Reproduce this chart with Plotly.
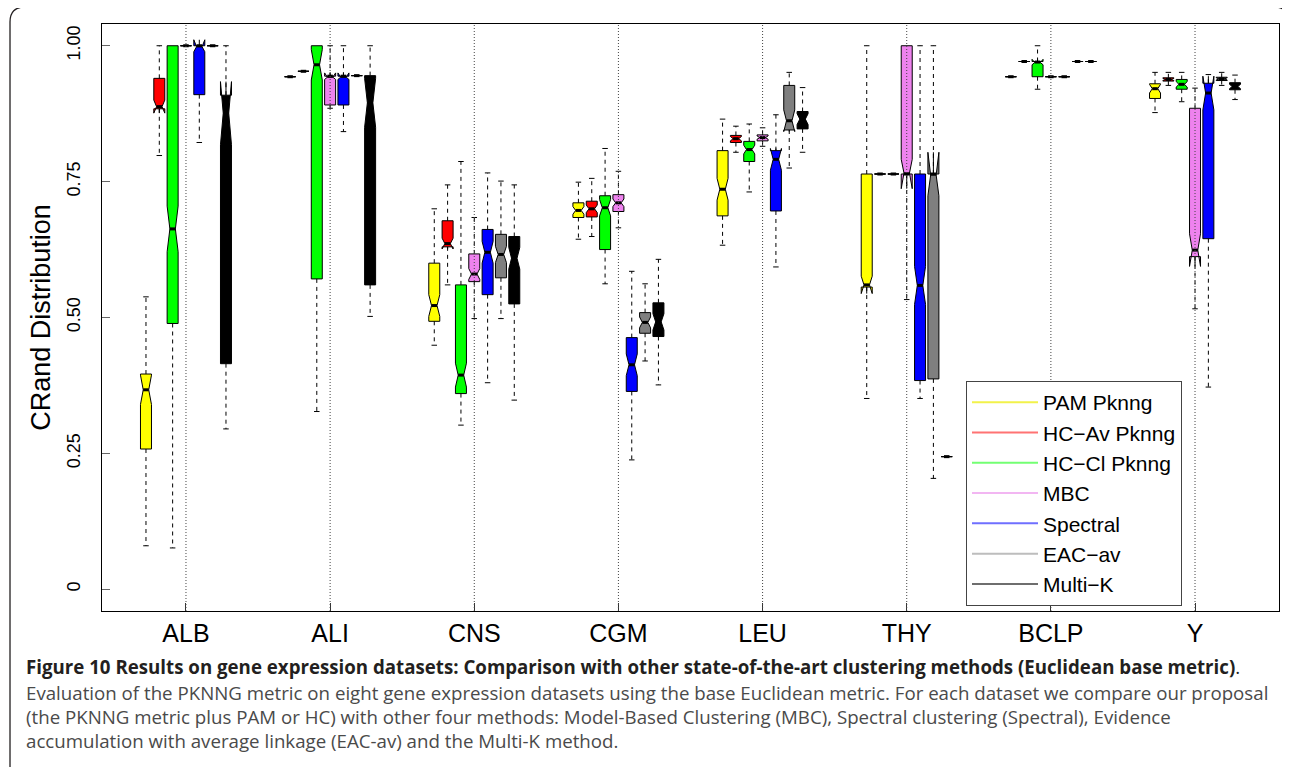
import plotly.graph_objects as go

# ---------------- data ----------------
DATASETS = ["ALB", "ALI", "CNS", "CGM", "LEU", "THY", "BCLP", "Y"]
METHODS = ["PAM Pknng", "HC\u2212Av Pknng", "HC\u2212Cl Pknng", "MBC", "Spectral", "EAC\u2212av", "Multi\u2212K"]

# per dataset: (lower whisker, q1, median, q3, upper whisker, notch half-span)
PAM_PKNNG = [(0.080, 0.258, 0.367, 0.396, 0.538, 0.027),
             (0.943, 0.943, 0.943, 0.943, 0.943, 0.0),
             (0.449, 0.493, 0.522, 0.600, 0.700, 0.020),
             (0.644, 0.684, 0.697, 0.711, 0.749, 0.007),
             (0.633, 0.687, 0.736, 0.807, 0.865, 0.020),
             (0.351, 0.556, 0.560, 0.764, 1.000, 0.016),
             (0.943, 0.943, 0.943, 0.943, 0.943, 0.0),
             (0.877, 0.903, 0.921, 0.930, 0.951, 0.008)]
HCAV_PKNNG = [(0.798, 0.884, 0.888, 0.940, 1.000, 0.012),
              (0.953, 0.953, 0.953, 0.953, 0.953, 0.0),
              (0.560, 0.630, 0.636, 0.678, 0.744, 0.010),
              (0.649, 0.685, 0.700, 0.714, 0.756, 0.007),
              (0.804, 0.822, 0.829, 0.835, 0.852, 0.004),
              (0.764, 0.764, 0.764, 0.764, 0.764, 0.0),
              (0.971, 0.971, 0.971, 0.971, 0.971, 0.0),
              (0.927, 0.935, 0.938, 0.941, 0.951, 0.002)]
HCCL_PKNNG = [(0.076, 0.489, 0.663, 1.000, 1.000, 0.042),
              (0.327, 0.571, 0.965, 1.000, 1.000, 0.028),
              (0.302, 0.360, 0.394, 0.560, 0.787, 0.022),
              (0.562, 0.625, 0.702, 0.724, 0.811, 0.015),
              (0.731, 0.787, 0.809, 0.824, 0.856, 0.008),
              (0.764, 0.764, 0.764, 0.764, 0.764, 0.0),
              (0.920, 0.943, 0.970, 0.971, 1.000, 0.005),
              (0.897, 0.920, 0.929, 0.938, 0.951, 0.005)]
MBC = [(1.000, 1.000, 1.000, 1.000, 1.000, 0.0),
       (0.885, 0.891, 0.944, 0.944, 1.000, 0.006),
       (0.498, 0.566, 0.580, 0.617, 0.684, 0.010),
       (0.665, 0.695, 0.711, 0.726, 0.769, 0.007),
       (0.815, 0.825, 0.831, 0.836, 0.849, 0.003),
       (0.533, 0.764, 0.764, 1.000, 1.000, 0.027),
       (0.943, 0.943, 0.943, 0.943, 0.943, 0.0),
       (0.516, 0.612, 0.624, 0.885, 0.922, 0.030)]
SPECTRAL = [(0.822, 0.910, 1.000, 1.000, 1.000, 0.011),
            (0.842, 0.891, 0.944, 0.944, 1.000, 0.006),
            (0.380, 0.542, 0.620, 0.662, 0.766, 0.020),
            (0.238, 0.364, 0.413, 0.463, 0.585, 0.020),
            (0.593, 0.696, 0.791, 0.807, 0.873, 0.020),
            (0.351, 0.384, 0.559, 0.764, 1.000, 0.035),
            (0.943, 0.943, 0.943, 0.943, 0.943, 0.0),
            (0.372, 0.645, 0.913, 0.931, 0.947, 0.031)]
EAC_AV = [(1.000, 1.000, 1.000, 1.000, 1.000, 0.0),
          (0.945, 0.945, 0.945, 0.945, 0.945, 0.0),
          (0.498, 0.573, 0.616, 0.653, 0.751, 0.015),
          (0.420, 0.471, 0.491, 0.509, 0.562, 0.010),
          (0.775, 0.845, 0.862, 0.927, 0.951, 0.020),
          (0.204, 0.387, 0.764, 0.764, 1.000, 0.040),
          (0.971, 0.971, 0.971, 0.971, 0.971, 0.0),
          (0.927, 0.936, 0.939, 0.942, 0.951, 0.002)]
MULTI_K = [(0.295, 0.415, 0.876, 0.909, 1.000, 0.058),
           (0.502, 0.560, 0.895, 0.945, 1.000, 0.045),
           (0.348, 0.525, 0.609, 0.649, 0.744, 0.020),
           (0.376, 0.465, 0.492, 0.527, 0.607, 0.015),
           (0.804, 0.847, 0.865, 0.879, 0.923, 0.010),
           (0.244, 0.244, 0.244, 0.244, 0.244, 0.0),
           (0.971, 0.971, 0.971, 0.971, 0.971, 0.0),
           (0.901, 0.919, 0.925, 0.932, 0.946, 0.004)]

SERIES = [PAM_PKNNG, HCAV_PKNNG, HCCL_PKNNG, MBC, SPECTRAL, EAC_AV, MULTI_K]

Y_TICKS = [0, 0.25, 0.5, 0.75, 1.0]
Y_TICK_TEXT = ["0", "0.25", "0.50", "0.75", "1.00"]

# ---------------- style ----------------
FILL = ["#ffff00", "#ff0000", "#00ff00", "#ee82ee", "#0000ff", "#7f7f7f", "#000000"]
LEGEND_COL = ["#f2f24a", "#ff7373", "#73ff73", "#f2b6f2", "#6f6fff", "#bdbdbd", "#6e6e6e"]
STEP = 0.0925     # spacing between boxes inside a group
BW = 0.0763       # box width
FONT = "Liberation Sans, Arial, Helvetica, sans-serif"

OFF = 8                      # default page margin of the html body
W, H = 1290 - OFF, 767 - OFF
L, R, T, B = 102 - OFF, 11, 24 - OFF, 156
PW, PH = W - L - R, H - T - B

def px2paper(px, py):
    fx, fy = px - OFF, py - OFF
    return (fx - L) / PW, (H - B - fy) / PH

fig = go.Figure()

for j, (name, data) in enumerate(zip(METHODS, SERIES)):
    xs = [g + 1 + (j - 3) * STEP for g in range(len(DATASETS))]
    lo = [d[0] for d in data]
    q1 = [d[1] for d in data]
    med = [d[2] for d in data]
    q3 = [d[3] for d in data]
    hi = [d[4] for d in data]
    ns = [d[5] for d in data]

    # dashed whiskers and solid staples
    wx, wy, cx, cy = [], [], [], []
    for x, a, b, c, d in zip(xs, lo, q1, q3, hi):
        if d > c:
            wx += [x, x, None]; wy += [c, d, None]
            cx += [x - BW / 4, x + BW / 4, None]; cy += [d, d, None]
        if b > a:
            wx += [x, x, None]; wy += [b, a, None]
            cx += [x - BW / 4, x + BW / 4, None]; cy += [a, a, None]
    fig.add_trace(go.Scatter(x=wx, y=wy, mode="lines", showlegend=False, hoverinfo="skip",
                             line=dict(color="#000000", width=1, dash="4px,4px")))
    fig.add_trace(go.Scatter(x=cx, y=cy, mode="lines", showlegend=False, hoverinfo="skip",
                             line=dict(color="#000000", width=1)))

    fig.add_trace(go.Box(
        x=xs, q1=q1, median=med, q3=q3, lowerfence=q1, upperfence=q3,
        notched=True, notchspan=ns, notchwidth=0.25, width=BW, whiskerwidth=0,
        fillcolor=FILL[j], line=dict(color="#000000", width=1),
        showlegend=False, hoverinfo="skip", name=name, boxpoints=False))

    # thick median segments
    mx, my = [], []
    for x, m in zip(xs, med):
        mx += [x - BW / 4, x + BW / 4, None]; my += [m, m, None]
    fig.add_trace(go.Scatter(x=mx, y=my, mode="lines", showlegend=False, hoverinfo="skip",
                             line=dict(color="#000000", width=3)))

# legend entries
for j, name in enumerate(METHODS):
    fig.add_trace(go.Scatter(x=[None], y=[None], mode="lines", name=name,
                             line=dict(color=LEGEND_COL[j], width=2)))

# dotted vertical lines through group centres (drawn above boxes)
for g in range(len(DATASETS)):
    fig.add_shape(type="line", xref="x", yref="paper", x0=g + 1, x1=g + 1, y0=0, y1=1,
                  line=dict(color="#444444", width=1, dash="1px,2px"), layer="above")

# outer rounded frame
def P(px, py):
    x, y = px2paper(px, py)
    return f"{x:.5f},{y:.5f}"
frame = ("M " + P(10, 800) + " L " + P(10, 22) + " Q " + P(10, 7) + " " + P(25, 7) +
         " L " + P(1274, 7) + " Q " + P(1289, 7) + " " + P(1289, 22) + " L " + P(1289, 800))
fig.add_shape(type="path", xref="paper", yref="paper", path=frame,
              line=dict(color="#231f20", width=1.3), layer="above")

# caption
CAP_FONT = "Open Sans, Noto Sans, sans-serif"
cap_lines = [
    ("<b>Figure 10 Results on gene expression datasets: Comparison with other state-of-the-art clustering methods (Euclidean base metric)</b>.", 666, "#231f20"),
    ("Evaluation of the PKNNG metric on eight gene expression datasets using the base Euclidean metric. For each dataset we compare our proposal", 692, "#4a4a4a"),
    ("(the PKNNG metric plus PAM or HC) with other four methods: Model-Based Clustering (MBC), Spectral clustering (Spectral), Evidence", 716, "#4a4a4a"),
    ("accumulation with average linkage (EAC-av) and the Multi-K method.", 740, "#4a4a4a"),
]
for text, py, col in cap_lines:
    x, y = px2paper(24, py)
    fig.add_annotation(text=text, xref="paper", yref="paper", x=x, y=y, xanchor="left",
                       yanchor="middle", showarrow=False,
                       font=dict(family=CAP_FONT, size=18.7, color=col))

fig.update_layout(
    width=W, height=H, margin=dict(l=L, r=R, t=T, b=B),
    paper_bgcolor="white", plot_bgcolor="white",
    boxmode="overlay",
    font=dict(family=FONT, color="#000000"),
    xaxis=dict(range=[0.4175, 8.5825], tickvals=list(range(1, len(DATASETS) + 1)),
               ticktext=DATASETS, ticks="inside", ticklen=8, tickcolor="#333333",
               showgrid=False, zeroline=False, showline=True, linecolor="#000000",
               linewidth=1, mirror=True, tickfont=dict(size=25), ticklabelstandoff=0),
    yaxis=dict(range=[-0.04, 1.04], tickvals=Y_TICKS, ticktext=Y_TICK_TEXT,
               ticks="inside", ticklen=8, tickcolor="#666666", tickangle=-90,
               showgrid=False, zeroline=False, showline=True, linecolor="#000000",
               linewidth=1, mirror=True, tickfont=dict(size=18), ticklabelstandoff=14,
               title=dict(text="CRand Distribution", font=dict(size=27), standoff=5)),
    legend=dict(x=px2paper(966, 0)[0], y=px2paper(0, 606)[1], xanchor="left", yanchor="bottom",
                bgcolor="white", bordercolor="#444444", borderwidth=1,
                font=dict(size=21, family=FONT), itemwidth=66,
                tracegroupgap=0),
)

fig.write_html("out.html")
